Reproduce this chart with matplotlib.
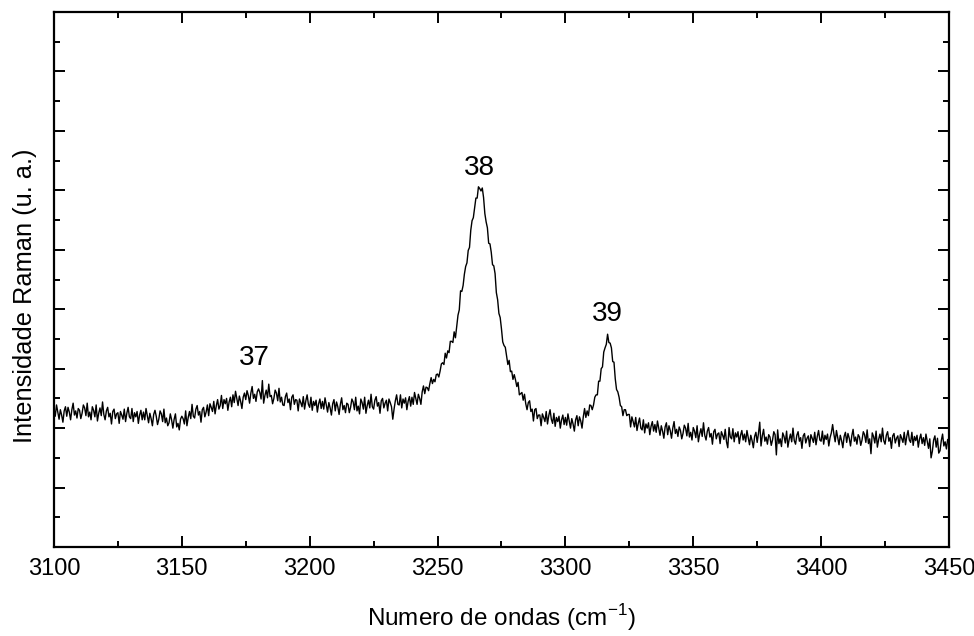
import numpy as np
import matplotlib
matplotlib.use("Agg")
import matplotlib.pyplot as plt
from matplotlib.ticker import MultipleLocator, NullFormatter

plt.rcParams["font.family"] = ["Liberation Sans", "DejaVu Sans"]

# Raman shift axis, 0.5 cm^-1 steps
wavenumber = np.arange(3100, 3450.25, 0.5)

# intensity (arbitrary units), one row per 5 cm^-1
intensity = [
    2.33, 2.20, 2.39, 2.27, 2.15, 2.31, 2.22, 2.10, 2.29, 2.36,
    2.20, 2.35, 2.27, 2.14, 2.31, 2.42, 2.22, 2.29, 2.17, 2.33,
    2.30, 2.16, 2.25, 2.39, 2.34, 2.21, 2.42, 2.19, 2.27, 2.14,
    2.36, 2.30, 2.19, 2.39, 2.12, 2.25, 2.34, 2.21, 2.44, 2.23,
    2.14, 2.29, 2.35, 2.19, 2.25, 2.07, 2.28, 2.32, 2.16, 2.24,
    2.26, 2.08, 2.28, 2.22, 2.15, 2.32, 2.11, 2.25, 2.35, 2.19,
    2.16, 2.33, 2.11, 2.26, 2.19, 2.28, 2.08, 2.22, 2.30, 2.14,
    2.27, 2.14, 2.33, 2.21, 2.09, 2.25, 2.16, 2.04, 2.23, 2.30,
    2.20, 2.06, 2.15, 2.29, 2.24, 2.11, 2.32, 2.09, 2.17, 2.04,
    2.09, 2.24, 2.14, 2.00, 2.15, 2.24, 2.02, 2.08, 1.97, 2.15,
    2.20, 2.16, 2.07, 2.29, 2.04, 2.18, 2.28, 2.16, 2.40, 2.20,
    2.17, 2.32, 2.38, 2.22, 2.28, 2.10, 2.31, 2.35, 2.19, 2.27,
    2.39, 2.21, 2.41, 2.35, 2.28, 2.45, 2.24, 2.38, 2.48, 2.32,
    2.38, 2.55, 2.33, 2.48, 2.41, 2.50, 2.30, 2.44, 2.52, 2.36,
    2.56, 2.43, 2.62, 2.50, 2.38, 2.54, 2.45, 2.33, 2.52, 2.59,
    2.48, 2.63, 2.55, 2.42, 2.59, 2.70, 2.50, 2.57, 2.45, 2.61,
    2.66, 2.60, 2.49, 2.80, 2.42, 2.55, 2.64, 2.51, 2.74, 2.53,
    2.55, 2.41, 2.50, 2.64, 2.59, 2.46, 2.67, 2.44, 2.52, 2.39,
    2.38, 2.53, 2.59, 2.43, 2.49, 2.31, 2.52, 2.56, 2.40, 2.48,
    2.47, 2.29, 2.49, 2.43, 2.36, 2.53, 2.32, 2.46, 2.56, 2.40,
    2.35, 2.52, 2.30, 2.45, 2.38, 2.47, 2.27, 2.41, 2.49, 2.33,
    2.45, 2.32, 2.51, 2.39, 2.27, 2.43, 2.34, 2.22, 2.41, 2.48,
    2.29, 2.44, 2.36, 2.23, 2.40, 2.51, 2.31, 2.38, 2.26, 2.42,
    2.40, 2.26, 2.35, 2.49, 2.44, 2.31, 2.52, 2.29, 2.37, 2.24,
    2.49, 2.43, 2.32, 2.52, 2.25, 2.38, 2.47, 2.34, 2.57, 2.36,
    2.32, 2.47, 2.53, 2.37, 2.43, 2.25, 2.46, 2.50, 2.34, 2.42,
    2.47, 2.29, 2.49, 2.43, 2.36, 2.15, 2.32, 2.46, 2.56, 2.40,
    2.39, 2.56, 2.34, 2.49, 2.42, 2.51, 2.31, 2.45, 2.53, 2.37,
    2.52, 2.40, 2.60, 2.50, 2.40, 2.57, 2.50, 2.40, 2.61, 2.71,
    2.58, 2.69, 2.68, 2.63, 2.75, 2.85, 2.75, 2.82, 2.78, 2.90,
    2.91, 2.86, 2.96, 3.08, 3.10, 3.07, 3.26, 3.18, 3.30, 3.27,
    3.46, 3.46, 3.44, 3.62, 3.52, 3.71, 3.90, 3.99, 4.31, 4.30,
    4.40, 4.59, 4.72, 4.78, 4.99, 5.04, 5.33, 5.49, 5.54, 5.71,
    5.87, 5.87, 6.06, 6.03, 5.99, 6.04, 5.88, 5.61, 5.47, 5.37,
    5.11, 5.10, 4.96, 4.75, 4.73, 4.60, 4.28, 4.16, 3.93, 3.86,
    3.67, 3.45, 3.39, 3.36, 3.22, 3.07, 3.14, 2.95, 2.96, 2.82,
    2.90, 2.81, 2.70, 2.77, 2.56, 2.58, 2.60, 2.47, 2.57, 2.41,
    2.31, 2.43, 2.46, 2.28, 2.32, 2.12, 2.31, 2.33, 2.16, 2.22,
    2.22, 2.04, 2.24, 2.18, 2.11, 2.28, 2.07, 2.21, 2.31, 2.15,
    2.08, 2.25, 2.03, 2.18, 2.11, 2.20, 2.00, 2.14, 2.22, 2.06,
    2.18, 2.05, 2.24, 2.12, 2.00, 2.16, 2.07, 1.95, 2.14, 2.21,
    2.04, 2.19, 2.12, 2.00, 2.19, 2.33, 2.18, 2.29, 2.21, 2.39,
    2.38, 2.31, 2.39, 2.52, 2.56, 2.56, 2.79, 2.79, 3.00, 3.03,
    3.28, 3.35, 3.41, 3.58, 3.44, 3.43, 3.35, 3.12, 3.11, 2.83,
    2.65, 2.61, 2.52, 2.38, 2.36, 2.21, 2.31, 2.31, 2.21, 2.23,
    2.23, 2.02, 2.19, 2.11, 2.02, 2.18, 1.96, 2.08, 2.17, 2.00,
    1.97, 2.14, 1.92, 2.07, 2.00, 2.09, 1.89, 2.03, 2.11, 1.95,
    2.06, 1.93, 2.12, 2.00, 1.88, 2.04, 1.95, 1.83, 2.02, 2.09,
    1.89, 2.04, 1.96, 1.83, 2.00, 2.11, 1.91, 1.98, 1.86, 2.02,
    1.96, 1.82, 1.91, 2.05, 2.00, 1.87, 2.08, 1.85, 1.93, 1.80,
    2.01, 1.95, 1.84, 2.04, 1.77, 1.90, 1.99, 1.86, 2.09, 1.88,
    1.80, 1.95, 2.01, 1.85, 1.91, 1.73, 1.94, 1.98, 1.82, 1.90,
    1.92, 1.74, 1.94, 1.88, 1.81, 1.98, 1.77, 1.67, 2.01, 1.85,
    1.82, 1.99, 1.77, 1.92, 1.85, 1.94, 1.74, 1.88, 1.96, 1.80,
    1.90, 1.77, 1.96, 1.84, 1.72, 1.88, 1.79, 1.67, 1.86, 1.93,
    1.76, 1.91, 2.10, 1.70, 1.87, 1.98, 1.78, 1.85, 1.73, 1.89,
    1.85, 1.71, 1.80, 1.94, 1.89, 1.55, 1.97, 1.74, 1.82, 1.69,
    1.92, 1.86, 1.75, 1.95, 1.68, 1.81, 1.90, 1.77, 2.00, 1.79,
    1.73, 1.88, 1.94, 1.78, 1.84, 1.66, 1.87, 1.91, 1.75, 1.83,
    1.87, 1.69, 1.89, 1.83, 1.76, 1.93, 1.72, 1.86, 1.96, 1.80,
    1.78, 1.95, 1.73, 1.88, 1.81, 1.90, 1.70, 1.84, 1.92, 2.06,
    1.90, 1.77, 1.96, 1.84, 1.72, 1.88, 1.79, 1.67, 1.86, 1.93,
    1.76, 1.91, 1.83, 1.70, 1.87, 1.98, 1.78, 1.85, 1.73, 1.89,
    1.85, 1.71, 1.80, 1.94, 1.89, 1.76, 1.97, 1.74, 1.82, 1.57,
    1.92, 1.86, 1.75, 1.95, 1.68, 1.81, 1.90, 1.77, 2.00, 1.79,
    1.73, 1.88, 1.94, 1.78, 1.84, 1.66, 1.87, 1.91, 1.75, 1.83,
    1.87, 1.69, 1.89, 1.83, 1.76, 1.93, 1.72, 1.86, 1.96, 1.80,
    1.76, 1.93, 1.71, 1.86, 1.79, 1.88, 1.68, 1.82, 1.90, 1.74,
    1.84, 1.71, 1.90, 1.78, 1.66, 1.82, 1.50, 1.61, 1.80, 1.87,
    1.68, 1.83, 1.58, 1.62, 1.79, 1.90, 1.70, 1.77, 1.65, 1.81,
    1.76,
]
assert len(intensity) == len(wavenumber)

# band labels and where they sit
band_names = ["37", "38", "39"]
band_x = [3178.5, 3266.5, 3316.3]
band_y = [3.18, 6.37, 3.92]

fig = plt.figure(figsize=(9.74, 6.36), dpi=100)
ax = fig.add_axes([0.0554, 0.1399, 0.9189, 0.8412])

ax.plot(wavenumber, intensity, color="black", lw=1.0)

for name, x, y in zip(band_names, band_x, band_y):
    ax.text(x, y, name, ha="center", va="center", fontsize=20)

ax.set_xlim(3100, 3450)
ax.set_ylim(0, 9)
ax.xaxis.set_major_locator(MultipleLocator(50))
ax.xaxis.set_minor_locator(MultipleLocator(25))
ax.yaxis.set_major_locator(MultipleLocator(1))
ax.yaxis.set_minor_locator(MultipleLocator(0.5))
ax.yaxis.set_major_formatter(NullFormatter())

ax.tick_params(which="both", direction="in", top=True, right=True, width=1.4)
ax.tick_params(which="major", length=8, labelsize=17, pad=8)
ax.tick_params(which="minor", length=4.5)
for spine in ax.spines.values():
    spine.set_linewidth(1.6)

ax.set_xlabel(r"Numero de ondas (cm$^{\mathregular{-1}}$)", fontsize=17.5, labelpad=16)
ax.set_ylabel("Intensidade Raman (u. a.)", fontsize=18.3)
ax.yaxis.set_label_coords(-0.019, 0.470)

fig.savefig("out.png", dpi=100)
